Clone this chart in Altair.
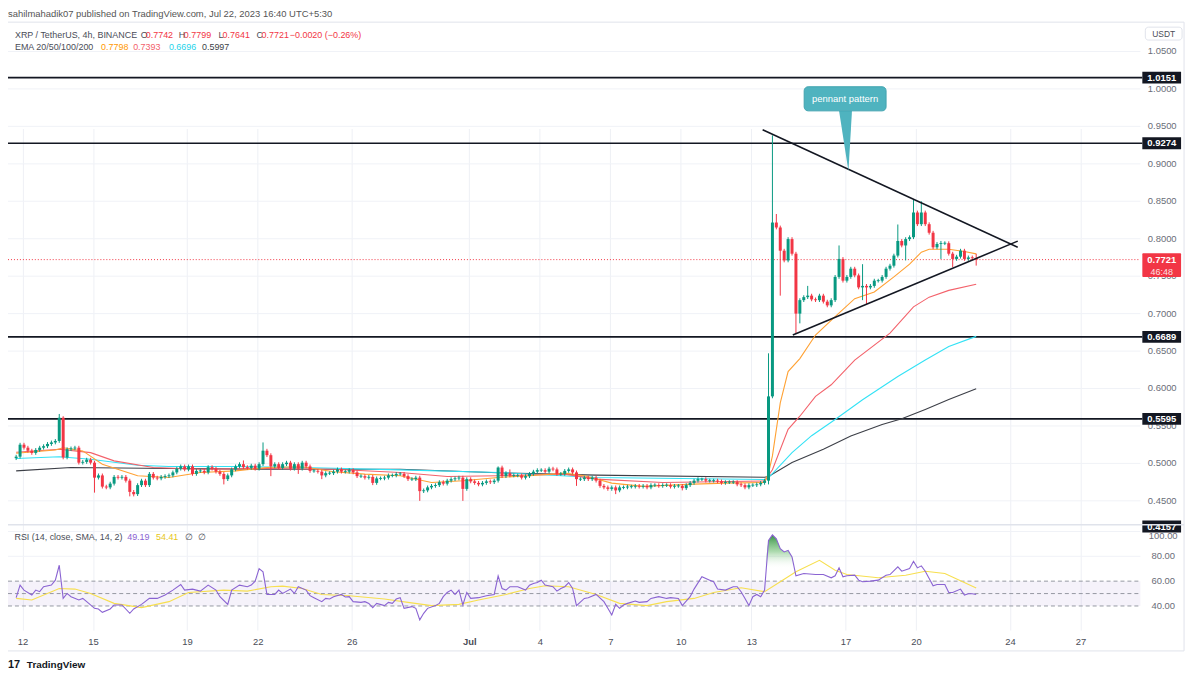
import altair as alt
import pandas as pd

# ---------------- data ----------------
FIRST_BAR = "2023-06-11 17:30"      # open time of first visible 4h candle (chart time, UTC+5:30)
X_START = "2023-06-11 14:15"
X_END = "2023-07-29 08:00"

first_open = 0.507
closes = [
    0.509, 0.525, 0.521, 0.517, 0.514, 0.518, 0.521, 0.523, 0.526, 0.528,
    0.530, 0.561, 0.508, 0.519, 0.520, 0.521, 0.501, 0.502, 0.505, 0.501,
    0.481, 0.484, 0.469, 0.468, 0.473, 0.482, 0.481, 0.482, 0.477, 0.462,
    0.459, 0.471, 0.477, 0.471, 0.486, 0.481, 0.480, 0.482, 0.483, 0.484,
    0.488, 0.493, 0.496, 0.492, 0.496, 0.486, 0.490, 0.490, 0.488, 0.495,
    0.493, 0.489, 0.486, 0.479, 0.484, 0.492, 0.496, 0.499, 0.495, 0.494,
    0.497, 0.493, 0.499, 0.517, 0.511, 0.496, 0.499, 0.494, 0.499, 0.501,
    0.493, 0.499, 0.493, 0.501, 0.496, 0.490, 0.490, 0.489, 0.484, 0.487,
    0.487, 0.489, 0.492, 0.489, 0.489, 0.491, 0.488, 0.483, 0.483, 0.481,
    0.482, 0.474, 0.480, 0.480, 0.481, 0.484, 0.484, 0.486, 0.486, 0.483,
    0.479, 0.479, 0.481, 0.463, 0.464, 0.468, 0.470, 0.471, 0.475, 0.473,
    0.477, 0.479, 0.480, 0.481, 0.466, 0.479, 0.476, 0.474, 0.472, 0.474,
    0.476, 0.475, 0.477, 0.4945, 0.483, 0.487, 0.484, 0.484, 0.484, 0.481,
    0.483, 0.486, 0.489, 0.491, 0.491, 0.489, 0.493, 0.492, 0.486, 0.486,
    0.490, 0.492, 0.488, 0.479, 0.479, 0.481, 0.479, 0.481, 0.477, 0.470,
    0.468, 0.466, 0.468, 0.464, 0.468, 0.468, 0.469, 0.469, 0.470, 0.469,
    0.470, 0.468, 0.471, 0.471, 0.470, 0.471, 0.471, 0.469, 0.470, 0.470,
    0.467, 0.471, 0.474, 0.477, 0.479, 0.479, 0.477, 0.477, 0.477, 0.476,
    0.474, 0.475, 0.475, 0.475, 0.472, 0.471, 0.468, 0.471, 0.471, 0.472,
    0.474, 0.477, 0.5895, 0.8216, 0.815, 0.784, 0.771, 0.7995, 0.780, 0.700,
    0.718, 0.722, 0.724, 0.719, 0.718, 0.724, 0.716, 0.711, 0.718, 0.749,
    0.773, 0.744, 0.749, 0.760, 0.751, 0.735, 0.737, 0.735, 0.737, 0.744,
    0.744, 0.749, 0.760, 0.764, 0.7775, 0.797, 0.791, 0.7995, 0.802, 0.835,
    0.8194, 0.835, 0.8194, 0.808, 0.7885, 0.793, 0.794, 0.794, 0.780, 0.773,
    0.776, 0.784, 0.773, 0.775, 0.7742, 0.7721,
]
high_wicks = {11: 0.566, 12: 0.563, 58: 0.504, 63: 0.528, 123: 0.496, 126: 0.492,
              175: 0.481, 192: 0.647, 193: 0.938, 194: 0.833, 202: 0.737, 210: 0.791,
              216: 0.766, 225: 0.819, 229: 0.8526, 231: 0.850, 236: 0.797, 245: 0.7799}
low_wicks = {20: 0.461, 29: 0.456, 30: 0.456, 53: 0.472, 65: 0.483, 72: 0.486, 78: 0.479,
             91: 0.471, 103: 0.450, 114: 0.450, 143: 0.470, 153: 0.459, 170: 0.464,
             192: 0.472, 193: 0.587, 195: 0.724, 199: 0.673, 200: 0.687, 216: 0.718,
             217: 0.713, 227: 0.771, 236: 0.773, 239: 0.762, 245: 0.7641}

ema20_pts = [(0, 0.5136), (10, 0.518), (12, 0.521), (17, 0.5167), (22, 0.499), (31, 0.4835),
             (39, 0.4813), (47, 0.4879), (56, 0.4901), (64, 0.4945), (73, 0.4955), (81, 0.4888),
             (89, 0.4857), (98, 0.4835), (106, 0.4746), (114, 0.4769), (123, 0.4813), (131, 0.4835),
             (140, 0.487), (145, 0.4835), (152, 0.4737), (160, 0.4693), (173, 0.4724), (181, 0.4737),
             (191, 0.4745), (192, 0.487), (193, 0.51), (195, 0.5808), (197, 0.6227), (200, 0.640),
             (204, 0.6714), (209, 0.696), (214, 0.720), (219, 0.729), (224, 0.749), (228, 0.766),
             (231, 0.782), (233, 0.786), (238, 0.786), (242, 0.783), (245, 0.7798)]
ema50_pts = [(0, 0.515), (11, 0.519), (19, 0.5144), (25, 0.5034), (35, 0.4945), (47, 0.4923),
             (64, 0.4932), (81, 0.4923), (98, 0.4879), (110, 0.4826), (123, 0.4835), (140, 0.4857),
             (148, 0.479), (165, 0.4746), (191, 0.4765), (193, 0.4916), (197, 0.5454), (200, 0.563),
             (204, 0.5896), (208, 0.605), (214, 0.638), (223, 0.674), (229, 0.709), (233, 0.722),
             (238, 0.731), (245, 0.7393)]
ema100_pts = [(0, 0.5065), (11, 0.509), (19, 0.5056), (31, 0.4976), (39, 0.4959), (56, 0.4959),
              (73, 0.4945), (98, 0.4914), (123, 0.4879), (148, 0.4813), (191, 0.4785), (192, 0.4807),
              (198, 0.5144), (203, 0.537), (209, 0.5586), (216, 0.585), (225, 0.616), (232, 0.638),
              (238, 0.656), (245, 0.6696)]
ema200_pts = [(0, 0.4901), (14, 0.4945), (39, 0.4932), (64, 0.4923), (98, 0.4923), (123, 0.4875),
              (148, 0.4844), (191, 0.4815), (192, 0.4826), (198, 0.5012), (206, 0.5189), (213, 0.5366),
              (221, 0.552), (226, 0.5595), (232, 0.572), (238, 0.5852), (245, 0.5997)]

rsi_pts = [(0, 46.7), (1, 56.8), (2, 52.8), (4, 48.8), (5, 52.8), (6, 51.5), (7, 55.5), (9, 56.8),
           (10, 60.8), (11, 72.8), (12, 46.1), (13, 50.1), (14, 47.5), (16, 44.8), (17, 46.1), (18, 43.5),
           (20, 38.1), (21, 37.6), (22, 34.9), (24, 37.6), (25, 40.8), (27, 40.8), (29, 34.1), (30, 37.6),
           (32, 41.3), (34, 46.1), (36, 46.1), (38, 48.8), (40, 52.8), (42, 57.3), (43, 52.8), (45, 53.6),
           (47, 52.0), (49, 56.8), (51, 52.8), (52, 47.5), (54, 41.3), (55, 52.8), (57, 56.8), (59, 55.5),
           (60, 56.8), (61, 60.0), (62, 70.1), (63, 67.5), (64, 49.3), (66, 49.3), (67, 52.8), (68, 50.1),
           (70, 53.6), (71, 50.1), (72, 55.5), (74, 52.8), (75, 48.3), (76, 46.7), (78, 43.5), (79, 46.1),
           (80, 45.6), (81, 47.5), (83, 49.3), (84, 47.2), (85, 47.5), (86, 43.5), (88, 42.9), (89, 43.5),
           (90, 42.1), (91, 38.7), (92, 42.1), (94, 40.3), (95, 42.9), (96, 42.1), (97, 45.6), (98, 46.7),
           (99, 38.1), (101, 39.5), (102, 38.1), (103, 28.8), (104, 34.1), (105, 38.1), (107, 40.3),
           (108, 42.1), (109, 47.5), (110, 50.9), (111, 52.8), (112, 49.3), (113, 52.8), (114, 40.8),
           (115, 50.9), (116, 46.1), (118, 46.7), (120, 48.3), (122, 49.3), (123, 64.3), (124, 54.1),
           (125, 52.8), (126, 55.5), (128, 55.5), (130, 52.8), (131, 56.8), (132, 58.1), (133, 58.9),
           (134, 60.8), (135, 56.8), (137, 55.5), (138, 52.0), (139, 54.1), (140, 55.5), (141, 58.9),
           (142, 54.1), (143, 40.3), (145, 46.1), (146, 46.7), (148, 49.3), (150, 43.5), (151, 38.1),
           (152, 32.8), (153, 41.3), (154, 38.1), (155, 40.8), (156, 42.1), (158, 44.0), (159, 42.9),
           (161, 43.5), (162, 46.1), (164, 47.5), (166, 46.1), (167, 46.7), (169, 46.1), (170, 40.3),
           (172, 47.5), (173, 53.6), (175, 63.5), (177, 60.8), (178, 59.5), (179, 53.6), (181, 52.8),
           (183, 55.5), (184, 55.5), (185, 51.5), (186, 46.1), (187, 40.3), (188, 47.5), (189, 49.3),
           (190, 47.5), (191, 52.8), (192, 92.8), (193, 97.3), (194, 94.1), (195, 86.1), (196, 83.5),
           (197, 84.8), (198, 79.5), (199, 64.3), (201, 66.1), (204, 65.3), (206, 65.3), (208, 62.7),
           (209, 64.3), (210, 70.7), (211, 63.5), (212, 64.3), (214, 64.8), (215, 60.8), (216, 59.5),
           (218, 60.0), (220, 60.8), (222, 64.8), (223, 65.3), (225, 71.5), (226, 68.0), (228, 70.1),
           (229, 76.0), (230, 70.7), (231, 72.3), (232, 68.0), (233, 62.1), (234, 56.3), (235, 57.3),
           (237, 57.3), (238, 50.9), (239, 50.9), (241, 53.6), (242, 48.8), (243, 49.9), (244, 49.9),
           (245, 49.19)]
rsi_sma_pts = [(0, 46.1), (4, 44.8), (11, 54.1), (15, 53.6), (19, 50.1), (25, 42.1), (32, 38.7),
               (39, 43.5), (44, 50.9), (53, 52.8), (59, 52.0), (65, 55.5), (68, 56.0), (73, 54.1),
               (78, 49.3), (85, 48.3), (94, 45.6), (100, 42.9), (106, 40.3), (113, 41.3), (118, 44.8),
               (125, 49.3), (131, 54.1), (135, 56.3), (141, 55.5), (148, 49.3), (154, 42.1), (161, 40.3),
               (166, 43.5), (173, 46.1), (178, 50.9), (185, 54.7), (191, 51.5), (195, 59.5), (199, 67.5),
               (205, 76.8), (209, 68.8), (212, 65.3), (220, 62.7), (227, 64.8), (232, 68.0), (237, 66.1),
               (245, 54.41)]

levels = [1.0151, 0.9274, 0.6689, 0.5595]
level_tags = [1.0151, 0.9274, 0.6689, 0.5595, 0.4157]
price_ticks = [0.45, 0.50, 0.55, 0.60, 0.65, 0.70, 0.75, 0.80, 0.85, 0.90, 0.95, 1.00, 1.05]
rsi_ticks = [80, 60, 40]
rsi_top_tick = [100]
rsi_grid = [100, 80]
rsi_dashes = [60, 50, 40]
date_ticks = ["2023-06-12", "2023-06-15", "2023-06-19", "2023-06-22", "2023-06-26", "2023-07-01",
              "2023-07-04", "2023-07-07", "2023-07-10", "2023-07-13", "2023-07-17", "2023-07-20",
              "2023-07-24", "2023-07-27"]
upper_trend = [(190.5, 0.9455), (255.6, 0.7885)]
lower_trend = [(198.2, 0.6714), (255.6, 0.7968)]
callout_box = [(201.1, 0.9707), (222.0, 1.0029)]
callout_pointer = [(210.0, 0.9707), (212.4, 0.890), (213.3, 0.9707)]
last_price = 0.7721
countdown = "46:48"

# ---------------- styles ----------------
W, H = 1140, 612
FONT = "Liberation Sans"
UP, DOWN = "#089981", "#f23645"
P_DOM = [0.4194, 1.0891]
R_DOM = [20.6, 104.6]
P_PER_PX = (P_DOM[1] - P_DOM[0]) / 505.0

base = pd.Timestamp(FIRST_BAR)


def ms(ts):
    return int(pd.Timestamp(ts).value // 1_000_000)


def bar_ms(i):
    return int((base + pd.Timedelta(hours=4 * i)).value // 1_000_000)


pscale = alt.Scale(domain=P_DOM, range=[505, 0], nice=False, zero=False)
rscale = alt.Scale(domain=R_DOM, range=[612, 507], nice=False, zero=False)
xscale = alt.Scale(type="utc", domain=[ms(X_START), ms(X_END)], nice=False)
xaxis = alt.Axis(values=[ms(d) for d in date_ticks],
                 labelExpr="utcdate(datum.value) == 1 ? utcFormat(datum.value, '%b') : '' + utcdate(datum.value)",
                 labelFontWeight=alt.condition("utcdate(datum.value) == 1", alt.value("bold"), alt.value("normal")),
                 grid=True, gridColor="#eef0f5", gridWidth=1, domain=False, ticks=False,
                 labelFontSize=9.5, labelColor="#4a4d57", labelFont=FONT, labelPadding=7,
                 labelOverlap=False, labelFlush=False, title=None)


def X(field):
    return alt.X(f"{field}:T", scale=xscale, axis=xaxis)


def YP(field):
    return alt.Y(f"{field}:Q", scale=pscale, axis=None)


def YR(field):
    return alt.Y(f"{field}:Q", scale=rscale, axis=None)


one = pd.DataFrame({"k": [0]})


def txt(s, x, y, color, size=9.0, weight="normal", align="center", opacity=1.0):
    return alt.Chart(one).mark_text(align=align, baseline="middle", fontSize=size, fontWeight=weight,
                                    color=color, font=FONT, opacity=opacity).encode(
        x=alt.value(x), y=alt.value(y), text=alt.value(s))


# ---------------- tables ----------------
rows = []
prev = first_open
for i, c in enumerate(closes):
    o = prev
    lo_b, hi_b = min(o, c), max(o, c)
    if hi_b - lo_b < 0.0012:
        mid = (hi_b + lo_b) / 2
        lo_b, hi_b = mid - 0.0006, mid + 0.0006
    rows.append({"t": bar_ms(i), "blo": lo_b, "bhi": hi_b,
                 "hi": high_wicks.get(i, max(o, c) + 0.0025),
                 "lo": low_wicks.get(i, min(o, c) - 0.0025),
                 "dir": "up" if c >= o else "down"})
    prev = c
candles = pd.DataFrame(rows)


def pts_df(pts):
    return pd.DataFrame({"t": [bar_ms(i) for i, _ in pts], "v": [v for _, v in pts]})


rsi_df = pts_df(rsi_pts)
rsi_df["ob"] = rsi_df["v"].clip(lower=70)
rsi_df["base"] = 70.0
sma_df = pts_df(rsi_sma_pts)

color_dir = alt.Color("dir:N", scale=alt.Scale(domain=["up", "down"], range=[UP, DOWN]), legend=None)

layers = []

# grid lines
layers.append(alt.Chart(pd.DataFrame({"p": price_ticks})).mark_rule(color="#f0f2f7", strokeWidth=1)
              .encode(y=YP("p"), x=alt.value(0), x2=alt.value(W)))
layers.append(alt.Chart(pd.DataFrame({"r": rsi_grid})).mark_rule(color="#f0f2f7", strokeWidth=1)
              .encode(y=YR("r"), x=alt.value(0), x2=alt.value(W)))
# RSI band and dashed levels
layers.append(alt.Chart(pd.DataFrame({"a": [40], "b": [60]})).mark_rect(color="#7e57c2", opacity=0.08)
              .encode(y=YR("a"), y2="b:Q", x=alt.value(0), x2=alt.value(W)))
layers.append(alt.Chart(pd.DataFrame({"r": rsi_dashes})).mark_rule(color="#9598a1", strokeDash=[4, 3], strokeWidth=1)
              .encode(y=YR("r"), x=alt.value(0), x2=alt.value(W)))

# horizontal levels
layers.append(alt.Chart(pd.DataFrame({"p": levels})).mark_rule(color="#131722", strokeWidth=1.6)
              .encode(y=YP("p"), x=alt.value(0), x2=alt.value(1142)))

# current price dotted line
layers.append(alt.Chart(pd.DataFrame({"p": [last_price]})).mark_rule(color=DOWN, strokeDash=[1, 2], strokeWidth=1)
              .encode(y=YP("p"), x=alt.value(0), x2=alt.value(W)))

# EMAs
for pts, col in [(ema200_pts, "#3c3f47"), (ema100_pts, "#33e2f5"), (ema50_pts, "#f3626b"), (ema20_pts, "#ffa133")]:
    layers.append(alt.Chart(pts_df(pts)).mark_line(color=col, strokeWidth=1.1)
                  .encode(x=X("t"), y=YP("v")))

# candles
layers.append(alt.Chart(candles).mark_rule(strokeWidth=1)
              .encode(x=X("t"), y=YP("lo"), y2="hi:Q", color=color_dir))
layers.append(alt.Chart(candles).mark_bar(size=3)
              .encode(x=X("t"), y=YP("blo"), y2="bhi:Q", color=color_dir))

# pennant trend lines
for seg in [upper_trend, lower_trend]:
    layers.append(alt.Chart(pts_df(seg)).mark_line(color="#131722", strokeWidth=1.6)
                  .encode(x=X("t"), y=YP("v")))

# callout
cb = pd.DataFrame({"t1": [bar_ms(callout_box[0][0])], "t2": [bar_ms(callout_box[1][0])],
                   "p1": [callout_box[0][1]], "p2": [callout_box[1][1]],
                   "tm": [bar_ms((callout_box[0][0] + callout_box[1][0]) / 2)],
                   "pm": [(callout_box[0][1] + callout_box[1][1]) / 2], "label": ["pennant pattern"]})
cp = pd.DataFrame({"t": [bar_ms(i) for i, _ in callout_pointer], "v": [v for _, v in callout_pointer],
                   "b": [callout_pointer[0][1]] * 3})
layers.append(alt.Chart(cp).mark_area(color="#4fb3bf").encode(x=X("t"), y=YP("v"), y2="b:Q"))
layers.append(alt.Chart(cb).mark_rect(fill="#4fb3bf", stroke="#41a3af", strokeWidth=1, cornerRadius=4)
              .encode(x=X("t1"), x2="t2:T", y=YP("p1"), y2="p2:Q"))
layers.append(alt.Chart(cb).mark_text(color="white", fontSize=9.5, font=FONT)
              .encode(x=X("tm"), y=YP("pm"), text="label:N"))

# RSI
grad = alt.Gradient(gradient="linear", x1=0, x2=0, y1=0, y2=1,
                    stops=[alt.GradientStop(color="rgba(46,139,62,0.95)", offset=0),
                           alt.GradientStop(color="rgba(76,175,80,0.45)", offset=0.5),
                           alt.GradientStop(color="rgba(255,255,255,0)", offset=1)])
layers.append(alt.Chart(rsi_df).mark_area(color=grad).encode(x=X("t"), y=YR("ob"), y2="base:Q"))
layers.append(alt.Chart(sma_df).mark_line(color="#f7df4f", strokeWidth=1.1).encode(x=X("t"), y=YR("v")))
layers.append(alt.Chart(rsi_df).mark_line(color="#8a63d2", strokeWidth=1.1).encode(x=X("t"), y=YR("v")))

# price axis labels
pt = pd.DataFrame({"p": price_ticks, "s": [f"{p:.4f}" for p in price_ticks]})
layers.append(alt.Chart(pt).mark_text(fontSize=9.5, font=FONT, color="#6a6d78", align="center", baseline="middle")
              .encode(y=YP("p"), x=alt.value(1162), text="s:N"))
rt = pd.DataFrame({"r": rsi_ticks, "s": [f"{r:.2f}" for r in rsi_ticks]})
layers.append(alt.Chart(rt).mark_text(fontSize=9.5, font=FONT, color="#6a6d78", align="center", baseline="middle")
              .encode(y=YR("r"), x=alt.value(1163), text="s:N"))
rt100 = pd.DataFrame({"r": rsi_top_tick, "s": [f"{r:.2f}" for r in rsi_top_tick]})
layers.append(alt.Chart(rt100).mark_text(fontSize=9.5, font=FONT, color="#6a6d78", align="center", baseline="middle", dy=5)
              .encode(y=YR("r"), x=alt.value(1163), text="s:N"))

# level tags on the price axis
half = 6.0 * P_PER_PX
tags = pd.DataFrame({"p": level_tags, "top": [p + half for p in level_tags],
                     "bot": [p - half for p in level_tags], "s": [f"{p:.4f}" for p in level_tags]})
layers.append(alt.Chart(tags).mark_rect(fill="#131722").encode(y=YP("bot"), y2="top:Q",
                                                               x=alt.value(1142), x2=alt.value(1181)))
layers.append(alt.Chart(tags).mark_text(fontSize=9.5, font=FONT, color="white", fontWeight="bold")
              .encode(y=YP("p"), x=alt.value(1161.5), text="s:N"))

# last price tag
lp = pd.DataFrame({"top": [last_price + 6.5 * P_PER_PX], "bot": [last_price - 17.5 * P_PER_PX],
                   "p": [last_price], "p2": [last_price - 12 * P_PER_PX],
                   "s": [f"{last_price:.4f}"], "c": [countdown]})
layers.append(alt.Chart(lp).mark_rect(fill=DOWN, cornerRadius=1).encode(y=YP("bot"), y2="top:Q",
                                                                         x=alt.value(1142), x2=alt.value(1181)))
layers.append(alt.Chart(lp).mark_text(fontSize=9.5, font=FONT, color="white", fontWeight="bold")
              .encode(y=YP("p"), x=alt.value(1161.5), text="s:N"))
layers.append(alt.Chart(lp).mark_text(fontSize=9, font=FONT, color="white", opacity=0.85)
              .encode(y=YP("p2"), x=alt.value(1161.5), text="c:N"))

# frame, pane separator, USDT button
layers.append(alt.Chart(one).mark_rect(fillOpacity=0, stroke="#e0e3eb", strokeWidth=1)
              .encode(x=alt.value(-1), x2=alt.value(1184), y=alt.value(0), y2=alt.value(633)))
layers.append(alt.Chart(one).mark_rule(color="#e0e3eb", strokeWidth=1.5)
              .encode(x=alt.value(-1), x2=alt.value(1184), y=alt.value(506)))
layers.append(alt.Chart(one).mark_rect(fill="white", stroke="#e0e3eb", strokeWidth=1, cornerRadius=3)
              .encode(x=alt.value(1145), x2=alt.value(1182), y=alt.value(5), y2=alt.value(18)))
layers.append(txt("USDT", 1163.5, 11.5, "#4a4d57", size=8.5))

# header texts
GRAY = "#4a4d57"
layers.append(txt("sahilmahadik07 published on TradingView.com, Jul 22, 2023 16:40 UTC+5:30", 0, -8,
                  "#555555", size=9.5, align="left"))
layers.append(txt("XRP / TetherUS, 4h, BINANCE", 7, 13.3, GRAY, align="left"))
for lab, lx, val, vx in [("O", 133.7, "0.7742", 138.7), ("H", 172, "0.7799", 177),
                         ("L", 212, "0.7641", 216), ("C", 250.3, "0.7721", 255.3)]:
    layers.append(txt(lab, lx, 13.3, GRAY, align="left"))
    layers.append(txt(val, vx, 13.3, DOWN, align="left"))
layers.append(txt("\u22120.0020 (\u22120.26%)", 283.7, 13.3, DOWN, align="left"))
layers.append(txt("EMA 20/50/100/200", 7, 25.5, GRAY, align="left"))
for val, vx, col in [("0.7798", 93.7, "#ff9800"), ("0.7393", 126, "#f3626b"),
                     ("0.6696", 162, "#1fd3ea"), ("0.5997", 195.3, "#3c3f47")]:
    layers.append(txt(val, vx, 25.5, col, align="left"))

# RSI legend
layers.append(txt("RSI (14, close, SMA, 14, 2)", 6.5, 518, GRAY, align="left"))
layers.append(txt("49.19", 120, 518, "#8a63d2", align="left"))
layers.append(txt("54.41", 149, 518, "#e6c619", align="left"))
layers.append(txt("\u2205", 178, 518, GRAY, align="left"))
layers.append(txt("\u2205", 191, 518, GRAY, align="left"))

# footer logo
layers.append(txt("17", 0, 647, "#131722", size=11, weight="bold", align="left"))
layers.append(txt("TradingView", 19, 647, "#131722", size=10, weight="bold", align="left"))

chart = (alt.layer(*layers)
         .resolve_scale(y="independent")
         .properties(width=W, height=H,
                     autosize=alt.AutoSizeParams(type="none"),
                     padding={"left": 0, "top": 12, "right": 52, "bottom": 49},
                     background="white")
         .configure_view(strokeWidth=0))

chart.save("out.html", embed_options={"renderer": "svg", "actions": False})
